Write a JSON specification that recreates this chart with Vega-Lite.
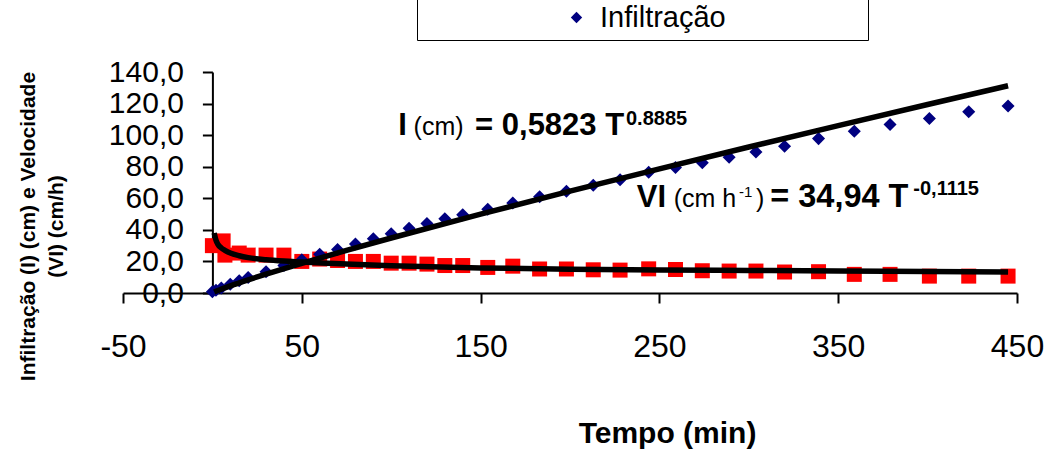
{
  "$schema": "https://vega.github.io/schema/vega-lite/v6.json",
  "width": 894,
  "height": 221,
  "autosize": {"type": "none"},
  "padding": {"left": 123, "top": 72, "right": 30, "bottom": 157},
  "background": "white",
  "config": {"view": {"stroke": null}, "font": "Liberation Sans", "axis": {"labelOverlap": false}, "axisY": {"tickCount": 8}},
  "datasets": {
    "pts": [
      {"t": 0, "serie": "Infiltração", "v": 0.8},
      {"t": 2, "serie": "Infiltração", "v": 1.8},
      {"t": 5, "serie": "Infiltração", "v": 3.2},
      {"t": 10, "serie": "Infiltração", "v": 5.5},
      {"t": 15, "serie": "Infiltração", "v": 7.8},
      {"t": 20, "serie": "Infiltração", "v": 9.8},
      {"t": 30, "serie": "Infiltração", "v": 13.5},
      {"t": 40, "serie": "Infiltração", "v": 17.5},
      {"t": 50, "serie": "Infiltração", "v": 21},
      {"t": 60, "serie": "Infiltração", "v": 24.5},
      {"t": 70, "serie": "Infiltração", "v": 27.5},
      {"t": 80, "serie": "Infiltração", "v": 31},
      {"t": 90, "serie": "Infiltração", "v": 34.3},
      {"t": 100, "serie": "Infiltração", "v": 37.5},
      {"t": 110, "serie": "Infiltração", "v": 41},
      {"t": 120, "serie": "Infiltração", "v": 44},
      {"t": 130, "serie": "Infiltração", "v": 47},
      {"t": 140, "serie": "Infiltração", "v": 49.5},
      {"t": 154, "serie": "Infiltração", "v": 53},
      {"t": 168, "serie": "Infiltração", "v": 57},
      {"t": 183, "serie": "Infiltração", "v": 61},
      {"t": 198, "serie": "Infiltração", "v": 64.5},
      {"t": 213, "serie": "Infiltração", "v": 68.2},
      {"t": 228, "serie": "Infiltração", "v": 71.8},
      {"t": 244, "serie": "Infiltração", "v": 76.5},
      {"t": 259, "serie": "Infiltração", "v": 79.5},
      {"t": 274, "serie": "Infiltração", "v": 82.5},
      {"t": 289, "serie": "Infiltração", "v": 86},
      {"t": 304, "serie": "Infiltração", "v": 89.3},
      {"t": 320, "serie": "Infiltração", "v": 93},
      {"t": 339, "serie": "Infiltração", "v": 97.8},
      {"t": 359, "serie": "Infiltração", "v": 102.5},
      {"t": 379, "serie": "Infiltração", "v": 106.8},
      {"t": 401, "serie": "Infiltração", "v": 110.6},
      {"t": 423, "serie": "Infiltração", "v": 114.8},
      {"t": 445, "serie": "Infiltração", "v": 118.5},
      {"t": 0, "serie": "Velocidade", "v": 30},
      {"t": 6, "serie": "Velocidade", "v": 33},
      {"t": 7, "serie": "Velocidade", "v": 24},
      {"t": 15, "serie": "Velocidade", "v": 25.3},
      {"t": 20, "serie": "Velocidade", "v": 24},
      {"t": 30, "serie": "Velocidade", "v": 24},
      {"t": 40, "serie": "Velocidade", "v": 24},
      {"t": 50, "serie": "Velocidade", "v": 20},
      {"t": 60, "serie": "Velocidade", "v": 21.5},
      {"t": 70, "serie": "Velocidade", "v": 20.6},
      {"t": 80, "serie": "Velocidade", "v": 20},
      {"t": 90, "serie": "Velocidade", "v": 20},
      {"t": 100, "serie": "Velocidade", "v": 18.9},
      {"t": 110, "serie": "Velocidade", "v": 18.9},
      {"t": 120, "serie": "Velocidade", "v": 18.3},
      {"t": 130, "serie": "Velocidade", "v": 17.4},
      {"t": 140, "serie": "Velocidade", "v": 17.4},
      {"t": 154, "serie": "Velocidade", "v": 16.2},
      {"t": 168, "serie": "Velocidade", "v": 17},
      {"t": 183, "serie": "Velocidade", "v": 15.2},
      {"t": 198, "serie": "Velocidade", "v": 15.2},
      {"t": 213, "serie": "Velocidade", "v": 14.7},
      {"t": 228, "serie": "Velocidade", "v": 14.5},
      {"t": 244, "serie": "Velocidade", "v": 15.3},
      {"t": 259, "serie": "Velocidade", "v": 14.9},
      {"t": 274, "serie": "Velocidade", "v": 14.1},
      {"t": 289, "serie": "Velocidade", "v": 13.9},
      {"t": 304, "serie": "Velocidade", "v": 13.9},
      {"t": 320, "serie": "Velocidade", "v": 13.3},
      {"t": 339, "serie": "Velocidade", "v": 13.5},
      {"t": 359, "serie": "Velocidade", "v": 11.8},
      {"t": 379, "serie": "Velocidade", "v": 11.8},
      {"t": 401, "serie": "Velocidade", "v": 10.7},
      {"t": 423, "serie": "Velocidade", "v": 10.7},
      {"t": 445, "serie": "Velocidade", "v": 10.7}
    ],
    "fit": [
      {"t": 1, "serie": "I", "v": 0.58},
      {"t": 2, "serie": "I", "v": 1.08},
      {"t": 5, "serie": "I", "v": 2.43},
      {"t": 10, "serie": "I", "v": 4.5},
      {"t": 20, "serie": "I", "v": 8.34},
      {"t": 30, "serie": "I", "v": 11.96},
      {"t": 50, "serie": "I", "v": 18.83},
      {"t": 75, "serie": "I", "v": 27.0},
      {"t": 100, "serie": "I", "v": 34.85},
      {"t": 150, "serie": "I", "v": 49.97},
      {"t": 200, "serie": "I", "v": 64.5},
      {"t": 250, "serie": "I", "v": 78.66},
      {"t": 300, "serie": "I", "v": 92.49},
      {"t": 350, "serie": "I", "v": 106.05},
      {"t": 400, "serie": "I", "v": 119.42},
      {"t": 445, "serie": "I", "v": 131.3},
      {"t": 1, "serie": "VI", "v": 38},
      {"t": 2, "serie": "VI", "v": 33.5},
      {"t": 3, "serie": "VI", "v": 31},
      {"t": 5, "serie": "VI", "v": 28.5},
      {"t": 7, "serie": "VI", "v": 27},
      {"t": 10, "serie": "VI", "v": 25.3},
      {"t": 15, "serie": "VI", "v": 23.6},
      {"t": 20, "serie": "VI", "v": 22.4},
      {"t": 30, "serie": "VI", "v": 21},
      {"t": 40, "serie": "VI", "v": 20.2},
      {"t": 50, "serie": "VI", "v": 19.7},
      {"t": 75, "serie": "VI", "v": 18.3},
      {"t": 100, "serie": "VI", "v": 17.3},
      {"t": 150, "serie": "VI", "v": 15.9},
      {"t": 200, "serie": "VI", "v": 15.1},
      {"t": 250, "serie": "VI", "v": 14.6},
      {"t": 300, "serie": "VI", "v": 14.3},
      {"t": 350, "serie": "VI", "v": 14},
      {"t": 400, "serie": "VI", "v": 13.6},
      {"t": 445, "serie": "VI", "v": 13.3}
    ],
    "one": [{}]
  },
  "layer": [
    {
      "data": {"name": "pts"},
      "transform": [{"filter": "datum.serie == 'Velocidade'"}],
      "mark": {"type": "point", "shape": "square", "filled": true, "size": 225, "color": "#FF0000", "opacity": 1},
      "encoding": {
        "x": {"field": "t", "type": "quantitative", "scale": {"domain": [-50, 450], "nice": false, "zero": false},
          "axis": {"orient": "bottom", "values": [-50, 50, 150, 250, 350, 450], "grid": false,
            "labelExpr": "'' + datum.value", "labelFlush": false, "labelOverlap": false,
            "domainColor": "black", "domainWidth": 2, "tickColor": "black", "tickWidth": 2, "tickSize": 10,
            "labelFontSize": 32, "labelColor": "black", "labelPadding": 28, "labelFont": "Liberation Sans",
            "title": "Tempo (min)", "titleFontSize": 30, "titleFontWeight": "bold", "titleColor": "black",
            "titleX": 544, "titleY": 149, "titleBaseline": "alphabetic", "titleAlign": "center"}},
        "y": {"field": "v", "type": "quantitative", "scale": {"domain": [0, 140], "nice": false},
          "axis": {"orient": "left", "offset": -89.4, "values": [0, 20, 40, 60, 80, 100, 120, 140], "tickCount": 8, "grid": false,
            "labelExpr": "replace(format(datum.value, '.1f'), '.', ',')", "labelOverlap": false, "labelFlush": false,
            "domainColor": "black", "domainWidth": 2, "tickColor": "black", "tickWidth": 2, "tickSize": 10,
            "labelFontSize": 30, "labelColor": "black", "labelPadding": 19,
            "title": ["Infiltração (I) (cm) e Velocidade", "(VI) (cm/h)"], "titleFontSize": 21, "titleFontWeight": "bold",
            "titleColor": "black", "titleAngle": -90, "titleAlign": "center", "titleBaseline": "top",
            "titleLineHeight": 28, "titleX": -195, "titleY": 154}}
      }
    },
    {
      "data": {"name": "pts"},
      "transform": [{"filter": "datum.serie == 'Infiltração'"}],
      "mark": {"type": "point", "shape": "diamond", "filled": true, "size": 170, "opacity": 1},
      "encoding": {
        "x": {"field": "t", "type": "quantitative"},
        "y": {"field": "v", "type": "quantitative"},
        "color": {"field": "serie", "type": "nominal", "scale": {"domain": ["Infiltração"], "range": ["#000080"]},
          "legend": {"orient": "none", "legendX": 294, "legendY": -76, "title": " ", "titleOrient": "right",
            "titlePadding": 135, "symbolType": "diamond", "symbolSize": 130, "symbolOffset": 138,
            "labelFontSize": 29, "labelColor": "black", "labelOffset": 9, "padding": 7,
            "strokeColor": "black", "fillColor": "white"}}
      }
    },
    {
      "data": {"name": "fit"},
      "mark": {"type": "line", "color": "black", "strokeWidth": 5.5, "interpolate": "monotone"},
      "encoding": {
        "x": {"field": "t", "type": "quantitative"},
        "y": {"field": "v", "type": "quantitative"},
        "detail": {"field": "serie"}
      }
    },
    {"data": {"name": "one"}, "mark": {"type": "text", "text": "I", "fontSize": 31, "fontWeight": "bold", "align": "left", "baseline": "alphabetic", "color": "black"},
      "encoding": {"x": {"datum": 103.9}, "y": {"datum": 100}}},
    {"data": {"name": "one"}, "mark": {"type": "text", "text": "(cm)", "fontSize": 25, "align": "left", "baseline": "alphabetic", "color": "black"},
      "encoding": {"x": {"datum": 112.5}, "y": {"datum": 100}}},
    {"data": {"name": "one"}, "mark": {"type": "text", "text": "= 0,5823 T", "fontSize": 31, "fontWeight": "bold", "align": "left", "baseline": "alphabetic", "color": "black"},
      "encoding": {"x": {"datum": 146.9}, "y": {"datum": 100}}},
    {"data": {"name": "one"}, "mark": {"type": "text", "text": "0.8885", "fontSize": 20, "fontWeight": "bold", "align": "left", "baseline": "alphabetic", "color": "black"},
      "encoding": {"x": {"datum": 231.3}, "y": {"datum": 106.3}}},
    {"data": {"name": "one"}, "mark": {"type": "text", "text": "VI", "fontSize": 31, "fontWeight": "bold", "align": "left", "baseline": "alphabetic", "color": "black"},
      "encoding": {"x": {"datum": 237.4}, "y": {"datum": 54.7}}},
    {"data": {"name": "one"}, "mark": {"type": "text", "text": "(cm h", "fontSize": 25, "align": "left", "baseline": "alphabetic", "color": "black"},
      "encoding": {"x": {"datum": 258.0}, "y": {"datum": 54.7}}},
    {"data": {"name": "one"}, "mark": {"type": "text", "text": "-1", "fontSize": 15, "align": "left", "baseline": "alphabetic", "color": "black"},
      "encoding": {"x": {"datum": 294.5}, "y": {"datum": 61.0}}},
    {"data": {"name": "one"}, "mark": {"type": "text", "text": ")", "fontSize": 25, "align": "left", "baseline": "alphabetic", "color": "black"},
      "encoding": {"x": {"datum": 304.0}, "y": {"datum": 54.7}}},
    {"data": {"name": "one"}, "mark": {"type": "text", "text": "= 34,94 T", "fontSize": 32.5, "fontWeight": "bold", "align": "left", "baseline": "alphabetic", "color": "black"},
      "encoding": {"x": {"datum": 312.0}, "y": {"datum": 54.7}}},
    {"data": {"name": "one"}, "mark": {"type": "text", "text": "-0,1115", "fontSize": 20, "fontWeight": "bold", "align": "left", "baseline": "alphabetic", "color": "black"},
      "encoding": {"x": {"datum": 392.0}, "y": {"datum": 62.1}}}
  ]
}
